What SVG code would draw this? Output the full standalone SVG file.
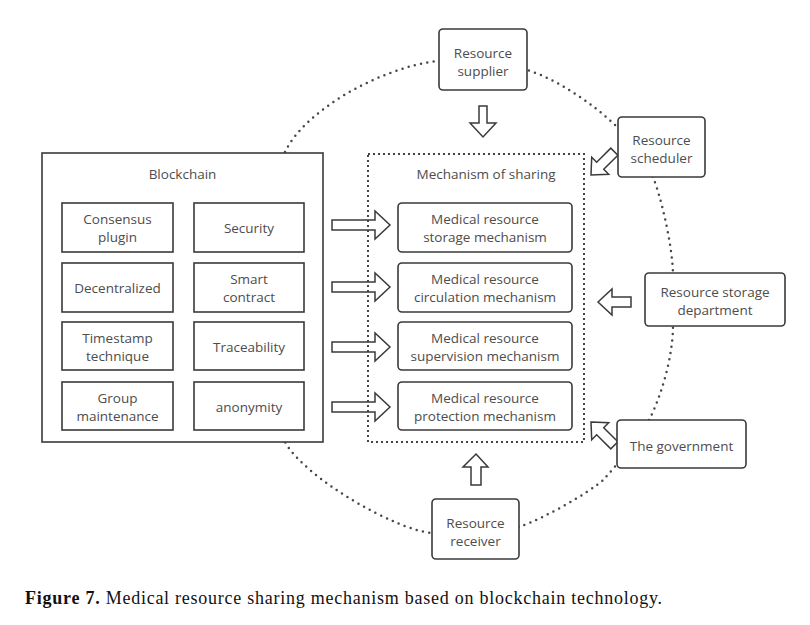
<svg xmlns="http://www.w3.org/2000/svg" width="810" height="625" viewBox="0 0 810 625">
<style>
.box{fill:#fff;stroke:#3a3a3a;stroke-width:1.6}
.arr{fill:#fff;stroke:#3a3a3a;stroke-width:1.5;stroke-linejoin:miter}
.t{font-family:"Open Sans","Noto Sans",sans-serif;font-size:13.5px;fill:#4d4d4d;text-anchor:middle}
.ring{fill:none;stroke:#474747;stroke-width:2.5;stroke-linecap:round;stroke-dasharray:0 6.4}
.dash{fill:none;stroke:#444;stroke-width:2;stroke-dasharray:2 3}
</style>
<rect width="810" height="625" fill="#fff"/>
<g id="connectors">
<path class="ring" d="M285,152 C305,110 380,68 437,61 L527,70 C555,78 595,105 617,127 L653,177 C662,200 672,245 673,273 L673,326 C673,355 662,395 649,420 C636,440 620,462 603,480 C590,492 545,518 519,527 L432,533 C395,530 305,478 285,442 Z"/>
<polygon class="arr" points="479,106 487,106 487,123 496,123 483,137 470,123 479,123"/>
<polygon class="arr" points="476,454 488,467 481,467 481,485 471,485 471,467 463,467"/>
<polygon class="arr" points="598,302 612,289 612,297 631,297 631,307 612,307 612,315"/>
<polygon class="arr" transform="translate(591,175) rotate(-45)" points="0,0 13,-12 13,-5 33,-5 33,5 13,5 13,12"/>
<polygon class="arr" transform="translate(591,422) rotate(45)" points="0,0 13,-12 13,-5 33,-5 33,5 13,5 13,12"/>
<polygon class="arr" points="332,220 375,220 375,211 390,225 375,239 375,230 332,230"/>
<polygon class="arr" points="332,282 375,282 375,273 390,287 375,301 375,292 332,292"/>
<polygon class="arr" points="332,342 375,342 375,333 390,347 375,361 375,352 332,352"/>
<polygon class="arr" points="332,402 375,402 375,393 390,407 375,421 375,412 332,412"/>
</g>
<g id="blockchain">
<rect class="box" x="42" y="153" width="281" height="289"/>
<text class="t" x="182.5" y="179">Blockchain</text>
</g>
<g id="consensus"><rect class="box" x="62" y="203" width="111" height="49"/><text class="t" x="117.5" y="223.5">Consensus</text><text class="t" x="117.5" y="241.5">plugin</text></g>
<g id="security"><rect class="box" x="194" y="203" width="110" height="49"/><text class="t" x="249" y="233">Security</text></g>
<g id="decentralized"><rect class="box" x="62" y="263" width="111" height="49"/><text class="t" x="117.5" y="293">Decentralized</text></g>
<g id="smart-contract"><rect class="box" x="194" y="263" width="110" height="49"/><text class="t" x="249" y="283.5">Smart</text><text class="t" x="249" y="301.5">contract</text></g>
<g id="timestamp"><rect class="box" x="62" y="322" width="111" height="48"/><text class="t" x="117.5" y="342.5">Timestamp</text><text class="t" x="117.5" y="360.5">technique</text></g>
<g id="traceability"><rect class="box" x="194" y="322" width="110" height="48"/><text class="t" x="249" y="352">Traceability</text></g>
<g id="group"><rect class="box" x="62" y="382" width="111" height="48"/><text class="t" x="117.5" y="402.5">Group</text><text class="t" x="117.5" y="420.5">maintenance</text></g>
<g id="anonymity"><rect class="box" x="194" y="382" width="110" height="48"/><text class="t" x="249" y="412">anonymity</text></g>
<g id="mechanism">
<rect class="dash" x="368" y="154" width="216" height="288"/>
<text class="t" x="486" y="179">Mechanism of sharing</text>
</g>
<g id="storage-mech"><rect class="box" x="398" y="203" width="174" height="49" rx="4"/><text class="t" x="485" y="223.5">Medical resource</text><text class="t" x="485" y="241.5">storage mechanism</text></g>
<g id="circulation-mech"><rect class="box" x="398" y="263" width="174" height="49" rx="4"/><text class="t" x="485" y="283.5">Medical resource</text><text class="t" x="485" y="301.5">circulation mechanism</text></g>
<g id="supervision-mech"><rect class="box" x="398" y="322" width="174" height="48" rx="4"/><text class="t" x="485" y="342.5">Medical resource</text><text class="t" x="485" y="360.5">supervision mechanism</text></g>
<g id="protection-mech"><rect class="box" x="398" y="382" width="174" height="48" rx="4"/><text class="t" x="485" y="402.5">Medical resource</text><text class="t" x="485" y="420.5">protection mechanism</text></g>
<g id="supplier"><rect class="box" x="439" y="29" width="88" height="61" rx="4"/><text class="t" x="483" y="57.5">Resource</text><text class="t" x="483" y="75.5">supplier</text></g>
<g id="scheduler"><rect class="box" x="618" y="117" width="87" height="60" rx="4"/><text class="t" x="661.5" y="144.5">Resource</text><text class="t" x="661.5" y="162.5">scheduler</text></g>
<g id="storage-dept"><rect class="box" x="645" y="273" width="140" height="53" rx="4"/><text class="t" x="715" y="297">Resource storage</text><text class="t" x="715" y="315">department</text></g>
<g id="government"><rect class="box" x="617" y="420" width="129" height="48" rx="4"/><text class="t" x="681.5" y="451">The government</text></g>
<g id="receiver"><rect class="box" x="432" y="499" width="87" height="60" rx="4"/><text class="t" x="475.5" y="527.5">Resource</text><text class="t" x="475.5" y="545.5">receiver</text></g>
<text x="25" y="604" font-family="'Liberation Serif',serif" font-size="18" fill="#111" textLength="637" lengthAdjust="spacing"><tspan font-weight="bold">Figure 7.</tspan> Medical resource sharing mechanism based on blockchain technology.</text>
</svg>
